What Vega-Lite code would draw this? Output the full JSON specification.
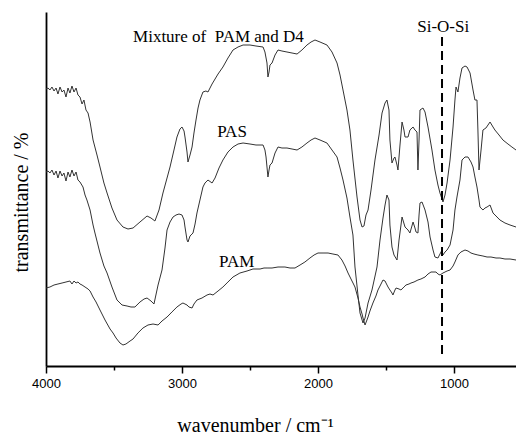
{
  "$schema": "https://vega.github.io/schema/vega-lite/v6.json",
  "width": 470,
  "height": 354,
  "autosize": {"type": "none"},
  "padding": {"left": 46, "top": 12, "right": 0, "bottom": 68},
  "background": "white",
  "config": {"view": {"stroke": null}, "axis": {"grid": false}},
  "datasets": {
    "spectra": [
      {"s":"m","w":4000,"t":277},{"s":"m","w":3985,"t":278},{"s":"m","w":3971,"t":276},{"s":"m","w":3956,"t":279},{"s":"m","w":3941,"t":275},{"s":"m","w":3926,"t":278},{"s":"m","w":3912,"t":272},{"s":"m","w":3897,"t":279},{"s":"m","w":3882,"t":274},{"s":"m","w":3868,"t":276},{"s":"m","w":3853,"t":269},{"s":"m","w":3838,"t":278},{"s":"m","w":3824,"t":273},{"s":"m","w":3809,"t":280},{"s":"m","w":3794,"t":274},{"s":"m","w":3779,"t":278},{"s":"m","w":3765,"t":271},{"s":"m","w":3750,"t":269},{"s":"m","w":3735,"t":262},{"s":"m","w":3721,"t":266},{"s":"m","w":3706,"t":256},{"s":"m","w":3691,"t":253},{"s":"m","w":3676,"t":244},{"s":"m","w":3654,"t":226},{"s":"m","w":3625,"t":211},{"s":"m","w":3603,"t":199},{"s":"m","w":3574,"t":183},{"s":"m","w":3551,"t":173},{"s":"m","w":3515,"t":158},{"s":"m","w":3478,"t":146},{"s":"m","w":3434,"t":139},{"s":"m","w":3397,"t":137},{"s":"m","w":3360,"t":138},{"s":"m","w":3309,"t":144},{"s":"m","w":3257,"t":150},{"s":"m","w":3228,"t":148},{"s":"m","w":3199,"t":145},{"s":"m","w":3169,"t":156},{"s":"m","w":3140,"t":173},{"s":"m","w":3110,"t":188},{"s":"m","w":3088,"t":199},{"s":"m","w":3059,"t":216},{"s":"m","w":3037,"t":229},{"s":"m","w":3015,"t":237},{"s":"m","w":3000,"t":239},{"s":"m","w":2985,"t":235},{"s":"m","w":2978,"t":229},{"s":"m","w":2963,"t":214},{"s":"m","w":2956,"t":204},{"s":"m","w":2941,"t":211},{"s":"m","w":2926,"t":219},{"s":"m","w":2912,"t":233},{"s":"m","w":2897,"t":246},{"s":"m","w":2882,"t":258},{"s":"m","w":2868,"t":266},{"s":"m","w":2846,"t":274},{"s":"m","w":2824,"t":275},{"s":"m","w":2809,"t":274},{"s":"m","w":2779,"t":282},{"s":"m","w":2735,"t":292},{"s":"m","w":2699,"t":299},{"s":"m","w":2662,"t":308},{"s":"m","w":2625,"t":316},{"s":"m","w":2588,"t":319},{"s":"m","w":2551,"t":321},{"s":"m","w":2500,"t":321},{"s":"m","w":2456,"t":320},{"s":"m","w":2404,"t":319},{"s":"m","w":2390,"t":314},{"s":"m","w":2375,"t":303},{"s":"m","w":2368,"t":289},{"s":"m","w":2360,"t":294},{"s":"m","w":2353,"t":301},{"s":"m","w":2338,"t":303},{"s":"m","w":2316,"t":311},{"s":"m","w":2294,"t":316},{"s":"m","w":2265,"t":315},{"s":"m","w":2228,"t":314},{"s":"m","w":2191,"t":313},{"s":"m","w":2154,"t":312},{"s":"m","w":2118,"t":316},{"s":"m","w":2081,"t":321},{"s":"m","w":2051,"t":324},{"s":"m","w":2022,"t":326},{"s":"m","w":1985,"t":324},{"s":"m","w":1934,"t":321},{"s":"m","w":1897,"t":314},{"s":"m","w":1860,"t":303},{"s":"m","w":1838,"t":291},{"s":"m","w":1816,"t":276},{"s":"m","w":1787,"t":256},{"s":"m","w":1765,"t":236},{"s":"m","w":1743,"t":206},{"s":"m","w":1713,"t":169},{"s":"m","w":1691,"t":146},{"s":"m","w":1676,"t":139},{"s":"m","w":1662,"t":140},{"s":"m","w":1647,"t":151},{"s":"m","w":1632,"t":156},{"s":"m","w":1610,"t":176},{"s":"m","w":1581,"t":206},{"s":"m","w":1551,"t":231},{"s":"m","w":1529,"t":253},{"s":"m","w":1507,"t":263},{"s":"m","w":1493,"t":266},{"s":"m","w":1478,"t":256},{"s":"m","w":1471,"t":226},{"s":"m","w":1456,"t":203},{"s":"m","w":1441,"t":208},{"s":"m","w":1434,"t":209},{"s":"m","w":1419,"t":201},{"s":"m","w":1412,"t":196},{"s":"m","w":1397,"t":221},{"s":"m","w":1382,"t":244},{"s":"m","w":1368,"t":236},{"s":"m","w":1360,"t":229},{"s":"m","w":1338,"t":229},{"s":"m","w":1324,"t":236},{"s":"m","w":1301,"t":239},{"s":"m","w":1287,"t":236},{"s":"m","w":1272,"t":234},{"s":"m","w":1265,"t":196},{"s":"m","w":1257,"t":226},{"s":"m","w":1250,"t":256},{"s":"m","w":1228,"t":258},{"s":"m","w":1213,"t":254},{"s":"m","w":1191,"t":239},{"s":"m","w":1162,"t":216},{"s":"m","w":1140,"t":196},{"s":"m","w":1118,"t":181},{"s":"m","w":1103,"t":173},{"s":"m","w":1081,"t":164},{"s":"m","w":1066,"t":171},{"s":"m","w":1051,"t":183},{"s":"m","w":1029,"t":206},{"s":"m","w":1007,"t":239},{"s":"m","w":993,"t":266},{"s":"m","w":985,"t":279},{"s":"m","w":971,"t":274},{"s":"m","w":956,"t":288},{"s":"m","w":941,"t":298},{"s":"m","w":919,"t":300},{"s":"m","w":904,"t":299},{"s":"m","w":882,"t":293},{"s":"m","w":860,"t":276},{"s":"m","w":846,"t":266},{"s":"m","w":831,"t":266},{"s":"m","w":824,"t":236},{"s":"m","w":816,"t":196},{"s":"m","w":801,"t":216},{"s":"m","w":787,"t":236},{"s":"m","w":765,"t":238},{"s":"m","w":750,"t":241},{"s":"m","w":735,"t":244},{"s":"m","w":713,"t":239},{"s":"m","w":699,"t":236},{"s":"m","w":669,"t":231},{"s":"m","w":640,"t":226},{"s":"m","w":603,"t":222},{"s":"m","w":574,"t":219},{"s":"m","w":544,"t":216},
      {"s":"s","w":4000,"t":194},{"s":"s","w":3985,"t":195},{"s":"s","w":3971,"t":193},{"s":"s","w":3956,"t":196},{"s":"s","w":3941,"t":191},{"s":"s","w":3926,"t":195},{"s":"s","w":3912,"t":188},{"s":"s","w":3897,"t":195},{"s":"s","w":3882,"t":190},{"s":"s","w":3868,"t":193},{"s":"s","w":3853,"t":185},{"s":"s","w":3838,"t":194},{"s":"s","w":3824,"t":189},{"s":"s","w":3809,"t":196},{"s":"s","w":3794,"t":190},{"s":"s","w":3779,"t":194},{"s":"s","w":3765,"t":186},{"s":"s","w":3750,"t":184},{"s":"s","w":3728,"t":179},{"s":"s","w":3713,"t":171},{"s":"s","w":3699,"t":166},{"s":"s","w":3676,"t":156},{"s":"s","w":3654,"t":141},{"s":"s","w":3640,"t":133},{"s":"s","w":3603,"t":113},{"s":"s","w":3574,"t":100},{"s":"s","w":3551,"t":93},{"s":"s","w":3515,"t":79},{"s":"s","w":3478,"t":66},{"s":"s","w":3441,"t":61},{"s":"s","w":3404,"t":60},{"s":"s","w":3375,"t":59},{"s":"s","w":3346,"t":59},{"s":"s","w":3309,"t":64},{"s":"s","w":3279,"t":67},{"s":"s","w":3257,"t":68},{"s":"s","w":3228,"t":65},{"s":"s","w":3206,"t":62},{"s":"s","w":3176,"t":81},{"s":"s","w":3147,"t":96},{"s":"s","w":3125,"t":118},{"s":"s","w":3110,"t":136},{"s":"s","w":3088,"t":144},{"s":"s","w":3066,"t":149},{"s":"s","w":3044,"t":151},{"s":"s","w":3022,"t":152},{"s":"s","w":3000,"t":151},{"s":"s","w":2985,"t":146},{"s":"s","w":2978,"t":139},{"s":"s","w":2963,"t":126},{"s":"s","w":2956,"t":124},{"s":"s","w":2941,"t":130},{"s":"s","w":2919,"t":133},{"s":"s","w":2904,"t":142},{"s":"s","w":2890,"t":153},{"s":"s","w":2868,"t":166},{"s":"s","w":2846,"t":179},{"s":"s","w":2831,"t":183},{"s":"s","w":2809,"t":186},{"s":"s","w":2779,"t":183},{"s":"s","w":2757,"t":188},{"s":"s","w":2728,"t":198},{"s":"s","w":2699,"t":206},{"s":"s","w":2662,"t":214},{"s":"s","w":2625,"t":219},{"s":"s","w":2588,"t":222},{"s":"s","w":2551,"t":223},{"s":"s","w":2500,"t":222},{"s":"s","w":2456,"t":221},{"s":"s","w":2404,"t":221},{"s":"s","w":2390,"t":216},{"s":"s","w":2382,"t":209},{"s":"s","w":2368,"t":189},{"s":"s","w":2360,"t":196},{"s":"s","w":2353,"t":201},{"s":"s","w":2338,"t":203},{"s":"s","w":2316,"t":213},{"s":"s","w":2294,"t":219},{"s":"s","w":2265,"t":218},{"s":"s","w":2228,"t":218},{"s":"s","w":2191,"t":217},{"s":"s","w":2154,"t":216},{"s":"s","w":2118,"t":219},{"s":"s","w":2081,"t":223},{"s":"s","w":2051,"t":226},{"s":"s","w":2022,"t":228},{"s":"s","w":1985,"t":226},{"s":"s","w":1934,"t":223},{"s":"s","w":1897,"t":216},{"s":"s","w":1860,"t":209},{"s":"s","w":1838,"t":198},{"s":"s","w":1816,"t":186},{"s":"s","w":1787,"t":168},{"s":"s","w":1765,"t":149},{"s":"s","w":1743,"t":131},{"s":"s","w":1728,"t":99},{"s":"s","w":1706,"t":71},{"s":"s","w":1691,"t":53},{"s":"s","w":1669,"t":43},{"s":"s","w":1654,"t":48},{"s":"s","w":1632,"t":63},{"s":"s","w":1603,"t":76},{"s":"s","w":1566,"t":99},{"s":"s","w":1544,"t":126},{"s":"s","w":1522,"t":148},{"s":"s","w":1507,"t":161},{"s":"s","w":1493,"t":171},{"s":"s","w":1478,"t":166},{"s":"s","w":1471,"t":141},{"s":"s","w":1456,"t":119},{"s":"s","w":1441,"t":111},{"s":"s","w":1419,"t":106},{"s":"s","w":1404,"t":126},{"s":"s","w":1382,"t":149},{"s":"s","w":1360,"t":139},{"s":"s","w":1338,"t":136},{"s":"s","w":1324,"t":133},{"s":"s","w":1301,"t":144},{"s":"s","w":1287,"t":138},{"s":"s","w":1279,"t":134},{"s":"s","w":1265,"t":133},{"s":"s","w":1257,"t":151},{"s":"s","w":1250,"t":163},{"s":"s","w":1235,"t":164},{"s":"s","w":1213,"t":156},{"s":"s","w":1191,"t":144},{"s":"s","w":1176,"t":129},{"s":"s","w":1154,"t":116},{"s":"s","w":1140,"t":109},{"s":"s","w":1118,"t":108},{"s":"s","w":1103,"t":112},{"s":"s","w":1088,"t":116},{"s":"s","w":1081,"t":111},{"s":"s","w":1066,"t":114},{"s":"s","w":1051,"t":116},{"s":"s","w":1029,"t":121},{"s":"s","w":1007,"t":136},{"s":"s","w":993,"t":156},{"s":"s","w":978,"t":169},{"s":"s","w":956,"t":186},{"s":"s","w":941,"t":206},{"s":"s","w":919,"t":209},{"s":"s","w":897,"t":209},{"s":"s","w":875,"t":204},{"s":"s","w":860,"t":199},{"s":"s","w":846,"t":189},{"s":"s","w":831,"t":179},{"s":"s","w":816,"t":166},{"s":"s","w":809,"t":159},{"s":"s","w":787,"t":156},{"s":"s","w":772,"t":158},{"s":"s","w":757,"t":159},{"s":"s","w":735,"t":161},{"s":"s","w":713,"t":153},{"s":"s","w":691,"t":150},{"s":"s","w":662,"t":146},{"s":"s","w":625,"t":143},{"s":"s","w":588,"t":141},{"s":"s","w":544,"t":139},
      {"s":"p","w":4000,"t":78},{"s":"p","w":3971,"t":79},{"s":"p","w":3941,"t":81},{"s":"p","w":3912,"t":82},{"s":"p","w":3882,"t":83},{"s":"p","w":3853,"t":84},{"s":"p","w":3824,"t":85},{"s":"p","w":3809,"t":82},{"s":"p","w":3794,"t":85},{"s":"p","w":3779,"t":83},{"s":"p","w":3765,"t":84},{"s":"p","w":3750,"t":82},{"s":"p","w":3735,"t":81},{"s":"p","w":3713,"t":79},{"s":"p","w":3691,"t":77},{"s":"p","w":3676,"t":75},{"s":"p","w":3654,"t":69},{"s":"p","w":3632,"t":64},{"s":"p","w":3603,"t":56},{"s":"p","w":3566,"t":46},{"s":"p","w":3529,"t":37},{"s":"p","w":3507,"t":33},{"s":"p","w":3485,"t":28},{"s":"p","w":3456,"t":23},{"s":"p","w":3434,"t":21},{"s":"p","w":3412,"t":22},{"s":"p","w":3382,"t":25},{"s":"p","w":3360,"t":27},{"s":"p","w":3324,"t":33},{"s":"p","w":3287,"t":38},{"s":"p","w":3250,"t":41},{"s":"p","w":3213,"t":42},{"s":"p","w":3176,"t":41},{"s":"p","w":3147,"t":45},{"s":"p","w":3110,"t":49},{"s":"p","w":3074,"t":54},{"s":"p","w":3037,"t":59},{"s":"p","w":3007,"t":62},{"s":"p","w":2993,"t":63},{"s":"p","w":2978,"t":62},{"s":"p","w":2963,"t":61},{"s":"p","w":2949,"t":59},{"s":"p","w":2926,"t":58},{"s":"p","w":2912,"t":62},{"s":"p","w":2890,"t":66},{"s":"p","w":2853,"t":68},{"s":"p","w":2816,"t":71},{"s":"p","w":2794,"t":72},{"s":"p","w":2772,"t":71},{"s":"p","w":2735,"t":75},{"s":"p","w":2699,"t":79},{"s":"p","w":2662,"t":84},{"s":"p","w":2625,"t":89},{"s":"p","w":2574,"t":93},{"s":"p","w":2522,"t":95},{"s":"p","w":2478,"t":97},{"s":"p","w":2426,"t":97},{"s":"p","w":2397,"t":98},{"s":"p","w":2368,"t":98},{"s":"p","w":2338,"t":98},{"s":"p","w":2294,"t":99},{"s":"p","w":2243,"t":99},{"s":"p","w":2206,"t":98},{"s":"p","w":2169,"t":98},{"s":"p","w":2132,"t":101},{"s":"p","w":2096,"t":104},{"s":"p","w":2059,"t":108},{"s":"p","w":2029,"t":111},{"s":"p","w":2000,"t":113},{"s":"p","w":1963,"t":113},{"s":"p","w":1926,"t":113},{"s":"p","w":1890,"t":112},{"s":"p","w":1853,"t":111},{"s":"p","w":1824,"t":106},{"s":"p","w":1801,"t":100},{"s":"p","w":1779,"t":93},{"s":"p","w":1750,"t":85},{"s":"p","w":1728,"t":79},{"s":"p","w":1706,"t":68},{"s":"p","w":1691,"t":59},{"s":"p","w":1676,"t":52},{"s":"p","w":1669,"t":48},{"s":"p","w":1654,"t":41},{"s":"p","w":1640,"t":46},{"s":"p","w":1632,"t":49},{"s":"p","w":1618,"t":55},{"s":"p","w":1596,"t":63},{"s":"p","w":1574,"t":70},{"s":"p","w":1559,"t":76},{"s":"p","w":1544,"t":80},{"s":"p","w":1522,"t":86},{"s":"p","w":1507,"t":85},{"s":"p","w":1500,"t":83},{"s":"p","w":1485,"t":79},{"s":"p","w":1471,"t":76},{"s":"p","w":1456,"t":73},{"s":"p","w":1449,"t":71},{"s":"p","w":1434,"t":76},{"s":"p","w":1426,"t":78},{"s":"p","w":1404,"t":77},{"s":"p","w":1390,"t":76},{"s":"p","w":1368,"t":79},{"s":"p","w":1353,"t":81},{"s":"p","w":1331,"t":82},{"s":"p","w":1316,"t":83},{"s":"p","w":1294,"t":84},{"s":"p","w":1265,"t":86},{"s":"p","w":1243,"t":87},{"s":"p","w":1213,"t":89},{"s":"p","w":1191,"t":92},{"s":"p","w":1169,"t":94},{"s":"p","w":1147,"t":94},{"s":"p","w":1132,"t":94},{"s":"p","w":1118,"t":92},{"s":"p","w":1103,"t":91},{"s":"p","w":1081,"t":93},{"s":"p","w":1066,"t":94},{"s":"p","w":1051,"t":95},{"s":"p","w":1029,"t":96},{"s":"p","w":1007,"t":100},{"s":"p","w":993,"t":104},{"s":"p","w":971,"t":111},{"s":"p","w":949,"t":114},{"s":"p","w":919,"t":116},{"s":"p","w":897,"t":115},{"s":"p","w":875,"t":113},{"s":"p","w":853,"t":112},{"s":"p","w":824,"t":111},{"s":"p","w":787,"t":110},{"s":"p","w":757,"t":109},{"s":"p","w":728,"t":109},{"s":"p","w":691,"t":108},{"s":"p","w":662,"t":108},{"s":"p","w":625,"t":107},{"s":"p","w":588,"t":107},{"s":"p","w":544,"t":106}
    ],
    "labels": [
      {"w": 2732, "t": 324, "label": "Mixture of\u00a0 PAM and D4"},
      {"w": 2632, "t": 229, "label": "PAS"},
      {"w": 2598, "t": 99, "label": "PAM"},
      {"w": 1079, "t": 334, "label": "Si-O-Si"}
    ],
    "marker": [
      {"w": 1088, "t": 12, "t2": 329}
    ]
  },
  "encoding": {
    "x": {
      "field": "w",
      "type": "quantitative",
      "scale": {"domain": [544, 4000], "reverse": true, "nice": false, "zero": false},
      "axis": {
        "values": [4000, 3500, 3000, 2500, 2000, 1500, 1000],
        "format": "d",
        "labelExpr": "datum.value % 1000 === 0 ? datum.label : ''",
        "labelFlush": false,
        "labelOverlap": false,
        "labelBound": false,
        "labelFont": "Liberation Sans",
        "labelFontSize": 13,
        "labelColor": "black",
        "labelPadding": 4,
        "tickSize": {"condition": {"test": "datum.value % 1000 === 0", "value": 7}, "value": 4},
        "tickColor": "black",
        "tickWidth": 1.5,
        "domainColor": "black",
        "domainWidth": 1.8,
        "title": "wavenumber / cm⁻¹",
        "titleFont": "Liberation Serif",
        "titleFontSize": 20,
        "titleFontWeight": "normal",
        "titleColor": "black",
        "titleX": 209,
        "titleY": 65,
        "titleBaseline": "alphabetic"
      }
    },
    "y": {
      "field": "t",
      "type": "quantitative",
      "scale": {"domain": [0, 354], "nice": false, "zero": false},
      "axis": {
        "ticks": false,
        "labels": false,
        "domainColor": "black",
        "domainWidth": 1.8,
        "title": "transmittance / %",
        "titleFont": "Liberation Serif",
        "titleFontSize": 20,
        "titleFontWeight": "normal",
        "titleColor": "black",
        "titleX": -19,
        "titleY": 190,
        "titleBaseline": "alphabetic"
      }
    }
  },
  "layer": [
    {
      "data": {"name": "spectra"},
      "mark": {"type": "line", "color": "#333333", "strokeWidth": 1},
      "encoding": {"detail": {"field": "s"}}
    },
    {
      "data": {"name": "marker"},
      "mark": {"type": "rule", "color": "black", "strokeWidth": 2, "strokeDash": [9, 5]},
      "encoding": {"y2": {"field": "t2"}}
    },
    {
      "data": {"name": "labels"},
      "mark": {"type": "text", "font": "Liberation Serif", "fontSize": 17, "color": "black", "align": "center", "baseline": "alphabetic"},
      "encoding": {"text": {"field": "label"}}
    }
  ]
}
